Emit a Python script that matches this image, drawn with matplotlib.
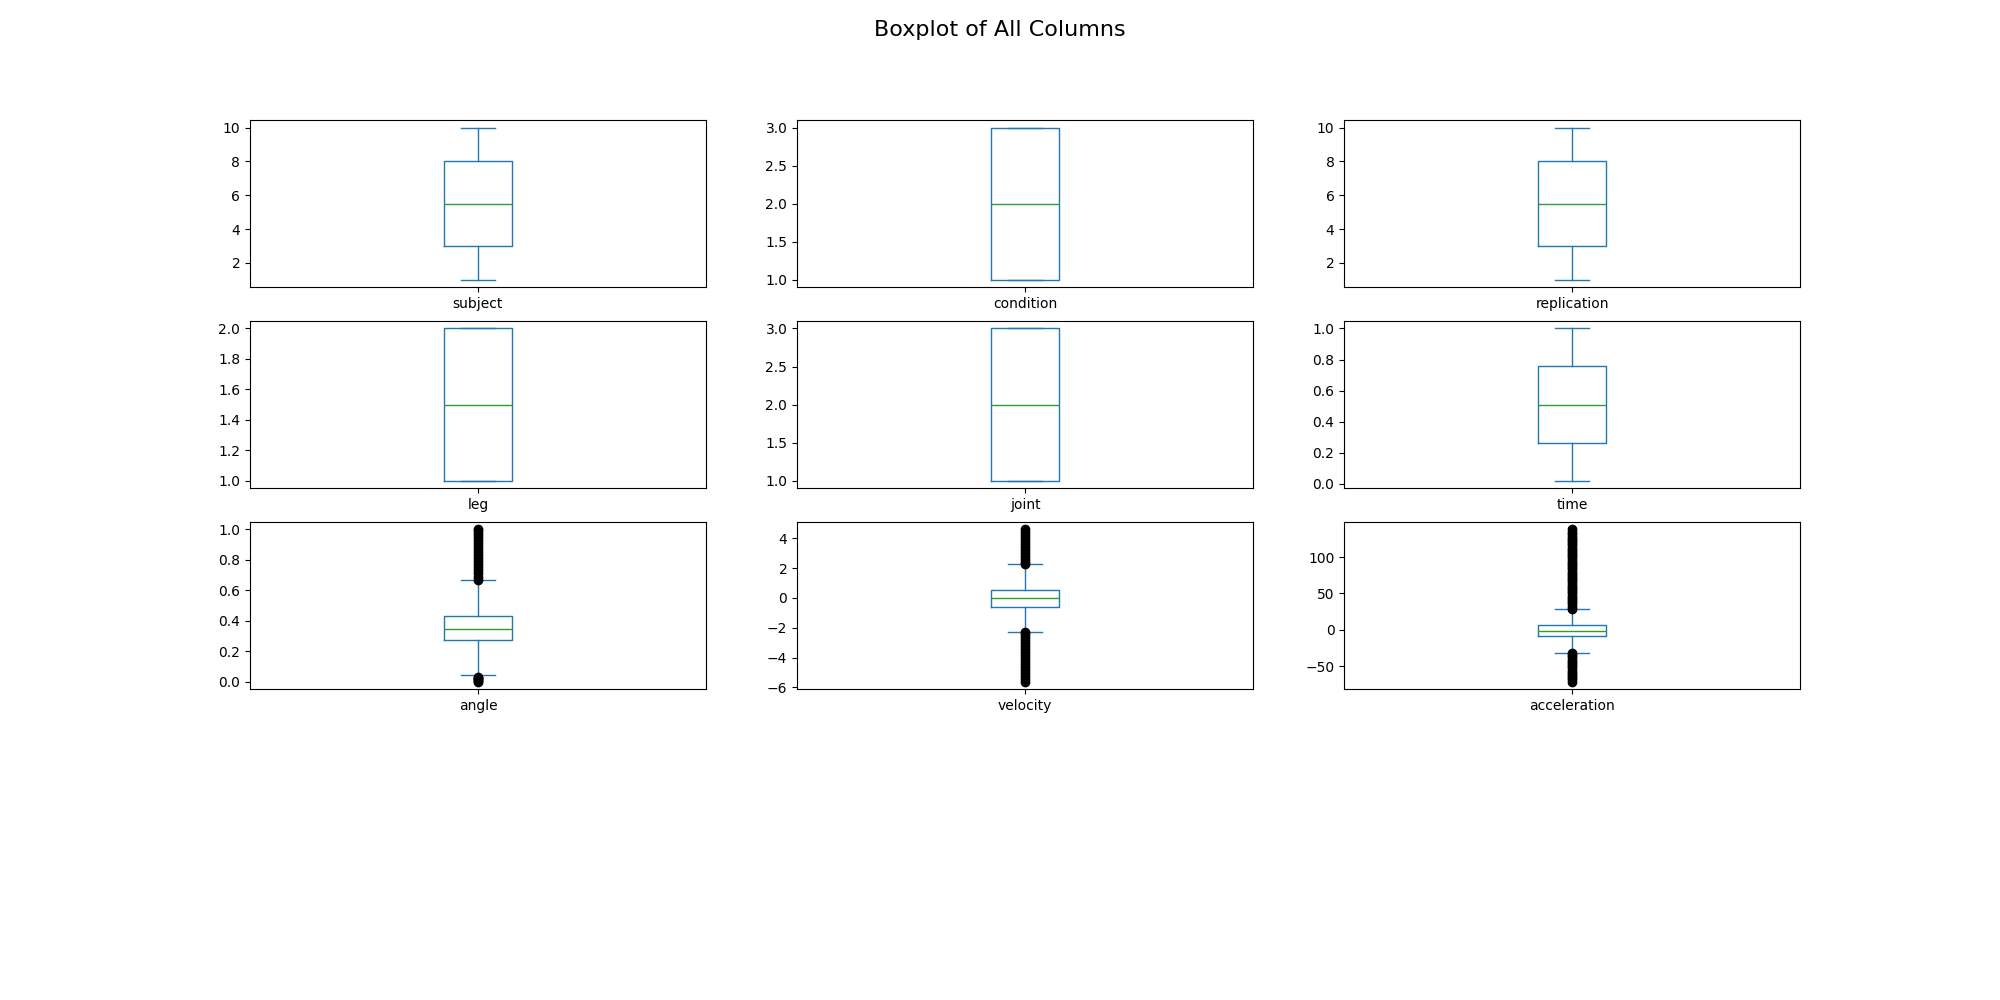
import matplotlib
matplotlib.use("Agg")
import matplotlib.pyplot as plt

# column names in the order they appear (row by row)
columns = ["subject", "condition", "replication",
           "leg", "joint", "time",
           "angle", "velocity", "acceleration"]

# five-number summaries: whislo, q1, median, q3, whishi
whislo = [1, 1, 1, 1, 1, 0.02, 0.04, -2.3, -32]
q1 = [3, 1, 3, 1, 1, 0.265, 0.275, -0.6, -9]
median = [5.5, 2, 5.5, 1.5, 2, 0.51, 0.345, 0.0, -1]
q3 = [8, 3, 8, 2, 3, 0.76, 0.43, 0.55, 6]
whishi = [10, 3, 10, 2, 3, 1.0, 0.67, 2.25, 29]

angle_fliers = [0.0, 0.005, 0.01, 0.015, 0.02, 0.025, 0.03,
                0.67, 0.69, 0.71, 0.73, 0.75, 0.77, 0.79, 0.81, 0.83,
                0.85, 0.87, 0.89, 0.91, 0.93, 0.95, 0.97, 0.99, 1.0]
velocity_fliers = [-5.6, -5.4, -5.2, -5.0, -4.8, -4.6, -4.4, -4.2, -4.0,
                   -3.8, -3.6, -3.4, -3.2, -3.0, -2.8, -2.6, -2.4, -2.3,
                   2.25, 2.4, 2.6, 2.8, 3.0, 3.2, 3.4, 3.6, 3.8, 4.0,
                   4.2, 4.4, 4.6]
acceleration_fliers = [-71, -68, -65, -62, -59, -56, -53, -50, -47, -44,
                       -41, -38, -35, -32,
                       29, 32, 35, 38, 41, 44, 47, 50, 53, 56, 59, 62, 65,
                       68, 71, 74, 77, 80, 83, 86, 89, 92, 95, 98, 101, 104,
                       107, 110, 113, 116, 119, 122, 125, 128, 131, 134, 138]
fliers = [[], [], [], [], [], [], angle_fliers, velocity_fliers, acceleration_fliers]

BOX_COLOR = "#1f77b4"
MEDIAN_COLOR = "#2ca02c"

fig, axes = plt.subplots(4, 3, figsize=(20, 10), dpi=100)
fig.suptitle("Boxplot of All Columns", fontsize=16)

for i, name in enumerate(columns):
    ax = axes[i // 3][i % 3]
    stats = [{
        "whislo": whislo[i],
        "q1": q1[i],
        "med": median[i],
        "q3": q3[i],
        "whishi": whishi[i],
        "fliers": fliers[i],
        "label": name,
    }]
    ax.bxp(
        stats,
        boxprops={"color": BOX_COLOR},
        whiskerprops={"color": BOX_COLOR},
        capprops={"color": BOX_COLOR},
        medianprops={"color": MEDIAN_COLOR},
        flierprops={"marker": "o", "markerfacecolor": "black",
                    "markeredgecolor": "black"},
    )

# last row is unused
for ax in axes[3]:
    ax.set_visible(False)

fig.savefig("out.png", dpi=100)
